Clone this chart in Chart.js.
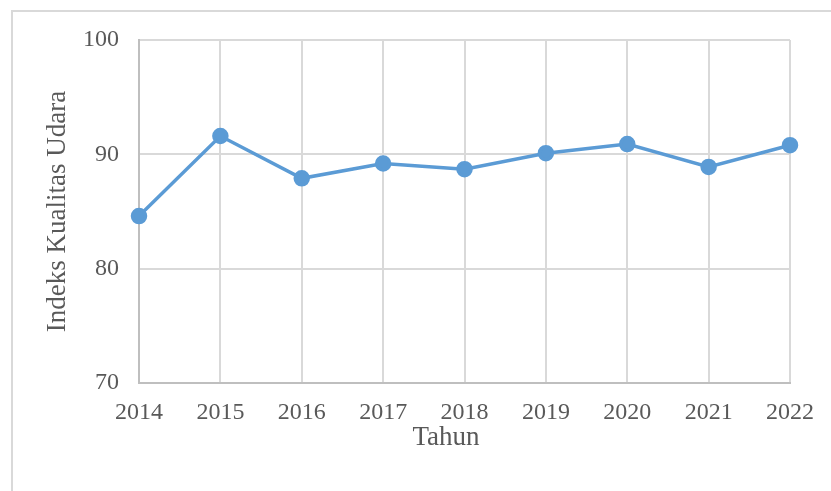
<!DOCTYPE html>
<html>
<head>
<meta charset="utf-8">
<script src="https://cdn.jsdelivr.net/npm/chart.js@4"></script>
<style>
  body { margin: 0; background: #fff; overflow: hidden; }
  #frame { position: absolute; left: 11px; top: 10px; width: 900px; height: 600px; border: 2px solid #d9d9d9; }
  #iku { position: absolute; left: 0; top: 0; }
</style>
</head>
<body>
<div id="frame"></div>
<canvas id="iku" width="831" height="491"></canvas>
<script>
// data
var years = ['2014', '2015', '2016', '2017', '2018', '2019', '2020', '2021', '2022'];
var ikuValues = [84.6, 91.6, 87.9, 89.2, 88.7, 90.1, 90.9, 88.9, 90.8];
var yTicks = [70, 80, 90, 100];

var serif = "'Liberation Serif', 'Times New Roman', serif";
var textColor = '#595959';

// x axis title sits a bit left of the plot centre, like the original
var xTitle = {
    id: 'xTitle',
    afterDraw: function (chart) {
        var ctx = chart.ctx;
        ctx.save();
        ctx.font = '27px ' + serif;
        ctx.fillStyle = textColor;
        ctx.textAlign = 'center';
        ctx.textBaseline = 'middle';
        ctx.fillText('Tahun', 446, 438);
        ctx.restore();
    }
};

var ctx = document.getElementById('iku');
var chart = new Chart(ctx, {
    type: 'line',
    data: {
        labels: years,
        datasets: [{
            data: ikuValues,
            borderColor: '#5b9bd5',
            backgroundColor: '#5b9bd5',
            borderWidth: 3.5,
            pointRadius: 6.5,
            pointHoverRadius: 6.5,
            tension: 0
        }]
    },
    options: {
        responsive: false,
        animation: false,
        layout: { padding: { top: 40, right: 41, left: 0, bottom: 0 } },
        plugins: {
            legend: { display: false },
            tooltip: { enabled: false }
        },
        scales: {
            x: {
                offset: false,
                grid: { color: '#d9d9d9', lineWidth: 2, drawTicks: false },
                border: { color: '#bfbfbf', width: 2 },
                ticks: {
                    font: { family: serif, size: 24 },
                    color: textColor,
                    padding: 15,
                    maxRotation: 0,
                    autoSkip: false
                },
                afterFit: function (scale) { scale.height = 108; }
            },
            y: {
                min: yTicks[0],
                max: yTicks[yTicks.length - 1],
                grid: { color: '#d9d9d9', lineWidth: 2, drawTicks: false },
                border: { color: '#bfbfbf', width: 2 },
                ticks: {
                    stepSize: yTicks[1] - yTicks[0],
                    font: { family: serif, size: 24 },
                    color: textColor,
                    padding: 20
                },
                title: {
                    display: true,
                    text: 'Indeks Kualitas Udara',
                    font: { family: serif, size: 27 },
                    color: textColor,
                    padding: { top: 42, bottom: 0 }
                },
                afterFit: function (scale) { scale.width = 139; }
            }
        }
    },
    plugins: [xTitle]
});
</script>
</body>
</html>
